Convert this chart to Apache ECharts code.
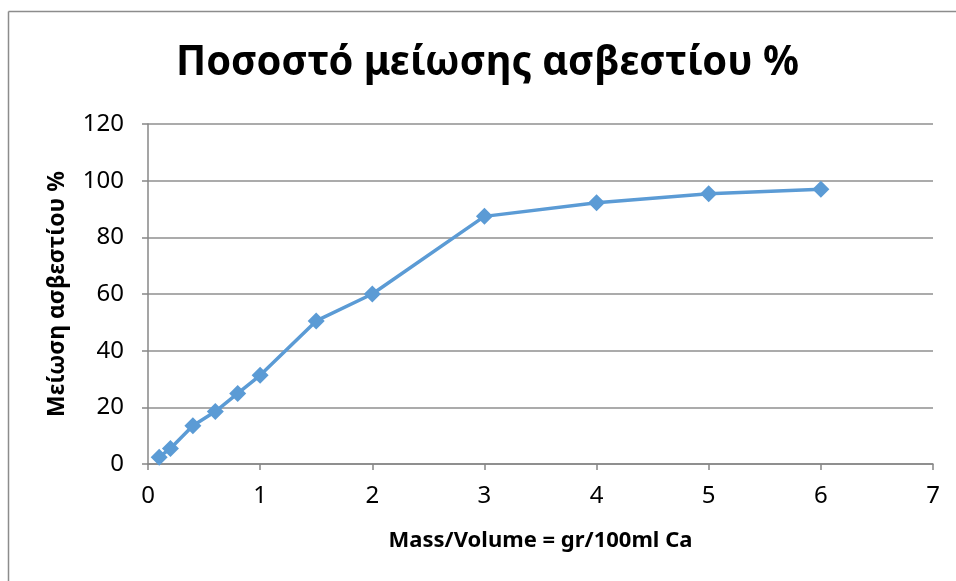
<!DOCTYPE html>
<html>
<head>
<meta charset="utf-8">
<script src="https://cdn.jsdelivr.net/npm/echarts@6/dist/echarts.min.js"></script>
<style>html,body{margin:0;padding:0;background:#fff}#c{width:956px;height:581px}</style>
</head>
<body>
<div id="c"></div>
<script>
const xValues = [0.1, 0.2, 0.4, 0.6, 0.8, 1, 1.5, 2, 3, 4, 5, 6];
const yValues = [2.4, 5.5, 13.5, 18.5, 24.9, 31.3, 50.5, 60.0, 87.4, 92.2, 95.4, 97.0];
const titleText = 'Ποσοστό μείωσης ασβεστίου %';
const xName = 'Mass/Volume = gr/100ml Ca';
const yName = 'Μείωση ασβεστίου %';

const chart = echarts.init(document.getElementById('c'));
const font = 'Noto Sans';
chart.setOption({
  animation: false,
  backgroundColor: '#fff',
  graphic: [
    { type: 'line', shape: { x1: 8.5, y1: 11.5, x2: 956, y2: 11.5 }, style: { stroke: '#8c8c8c', lineWidth: 1.5 } },
    { type: 'line', shape: { x1: 8.5, y1: 11.5, x2: 8.5, y2: 581 }, style: { stroke: '#8c8c8c', lineWidth: 1.5 } },
    {
      type: 'text', x: 487.5, y: 63, scaleX: 0.95, scaleY: 1,
      style: {
        text: titleText, fontFamily: font, fontWeight: 'bold', fontSize: 42,
        fill: '#000', align: 'center', verticalAlign: 'middle'
      }
    }
  ],
  grid: { left: 148, right: 23, top: 124, bottom: 117 },
  xAxis: {
    type: 'value', min: 0, max: 7, interval: 1,
    name: xName, nameLocation: 'middle', nameGap: 66,
    nameTextStyle: { fontFamily: font, fontWeight: 'bold', fontSize: 22, color: '#000' },
    axisLine: { lineStyle: { color: '#878787', width: 1.5 } },
    axisTick: { show: true, length: 6, lineStyle: { color: '#878787', width: 1.5 } },
    axisLabel: { fontFamily: font, fontSize: 24, color: '#000', margin: 20 },
    splitLine: { show: false }
  },
  yAxis: {
    type: 'value', min: 0, max: 120, interval: 20,
    name: yName, nameLocation: 'middle', nameGap: 79, nameRotate: 90,
    nameTextStyle: { fontFamily: font, fontWeight: 'bold', fontSize: 23, color: '#000' },
    axisLine: { show: true, lineStyle: { color: '#878787', width: 1.5 } },
    axisTick: { show: true, length: 6, lineStyle: { color: '#878787', width: 1.5 } },
    axisLabel: { fontFamily: font, fontSize: 24, color: '#000', margin: 24 },
    splitLine: { show: true, lineStyle: { color: '#8f8f8f', width: 1.5 } }
  },
  series: [{
    type: 'line',
    data: xValues.map((x, i) => [x, yValues[i]]),
    symbol: 'diamond', symbolSize: 17,
    lineStyle: { color: '#5b9bd5', width: 3.5 },
    itemStyle: { color: '#5b9bd5' }
  }]
});
</script>
</body>
</html>
